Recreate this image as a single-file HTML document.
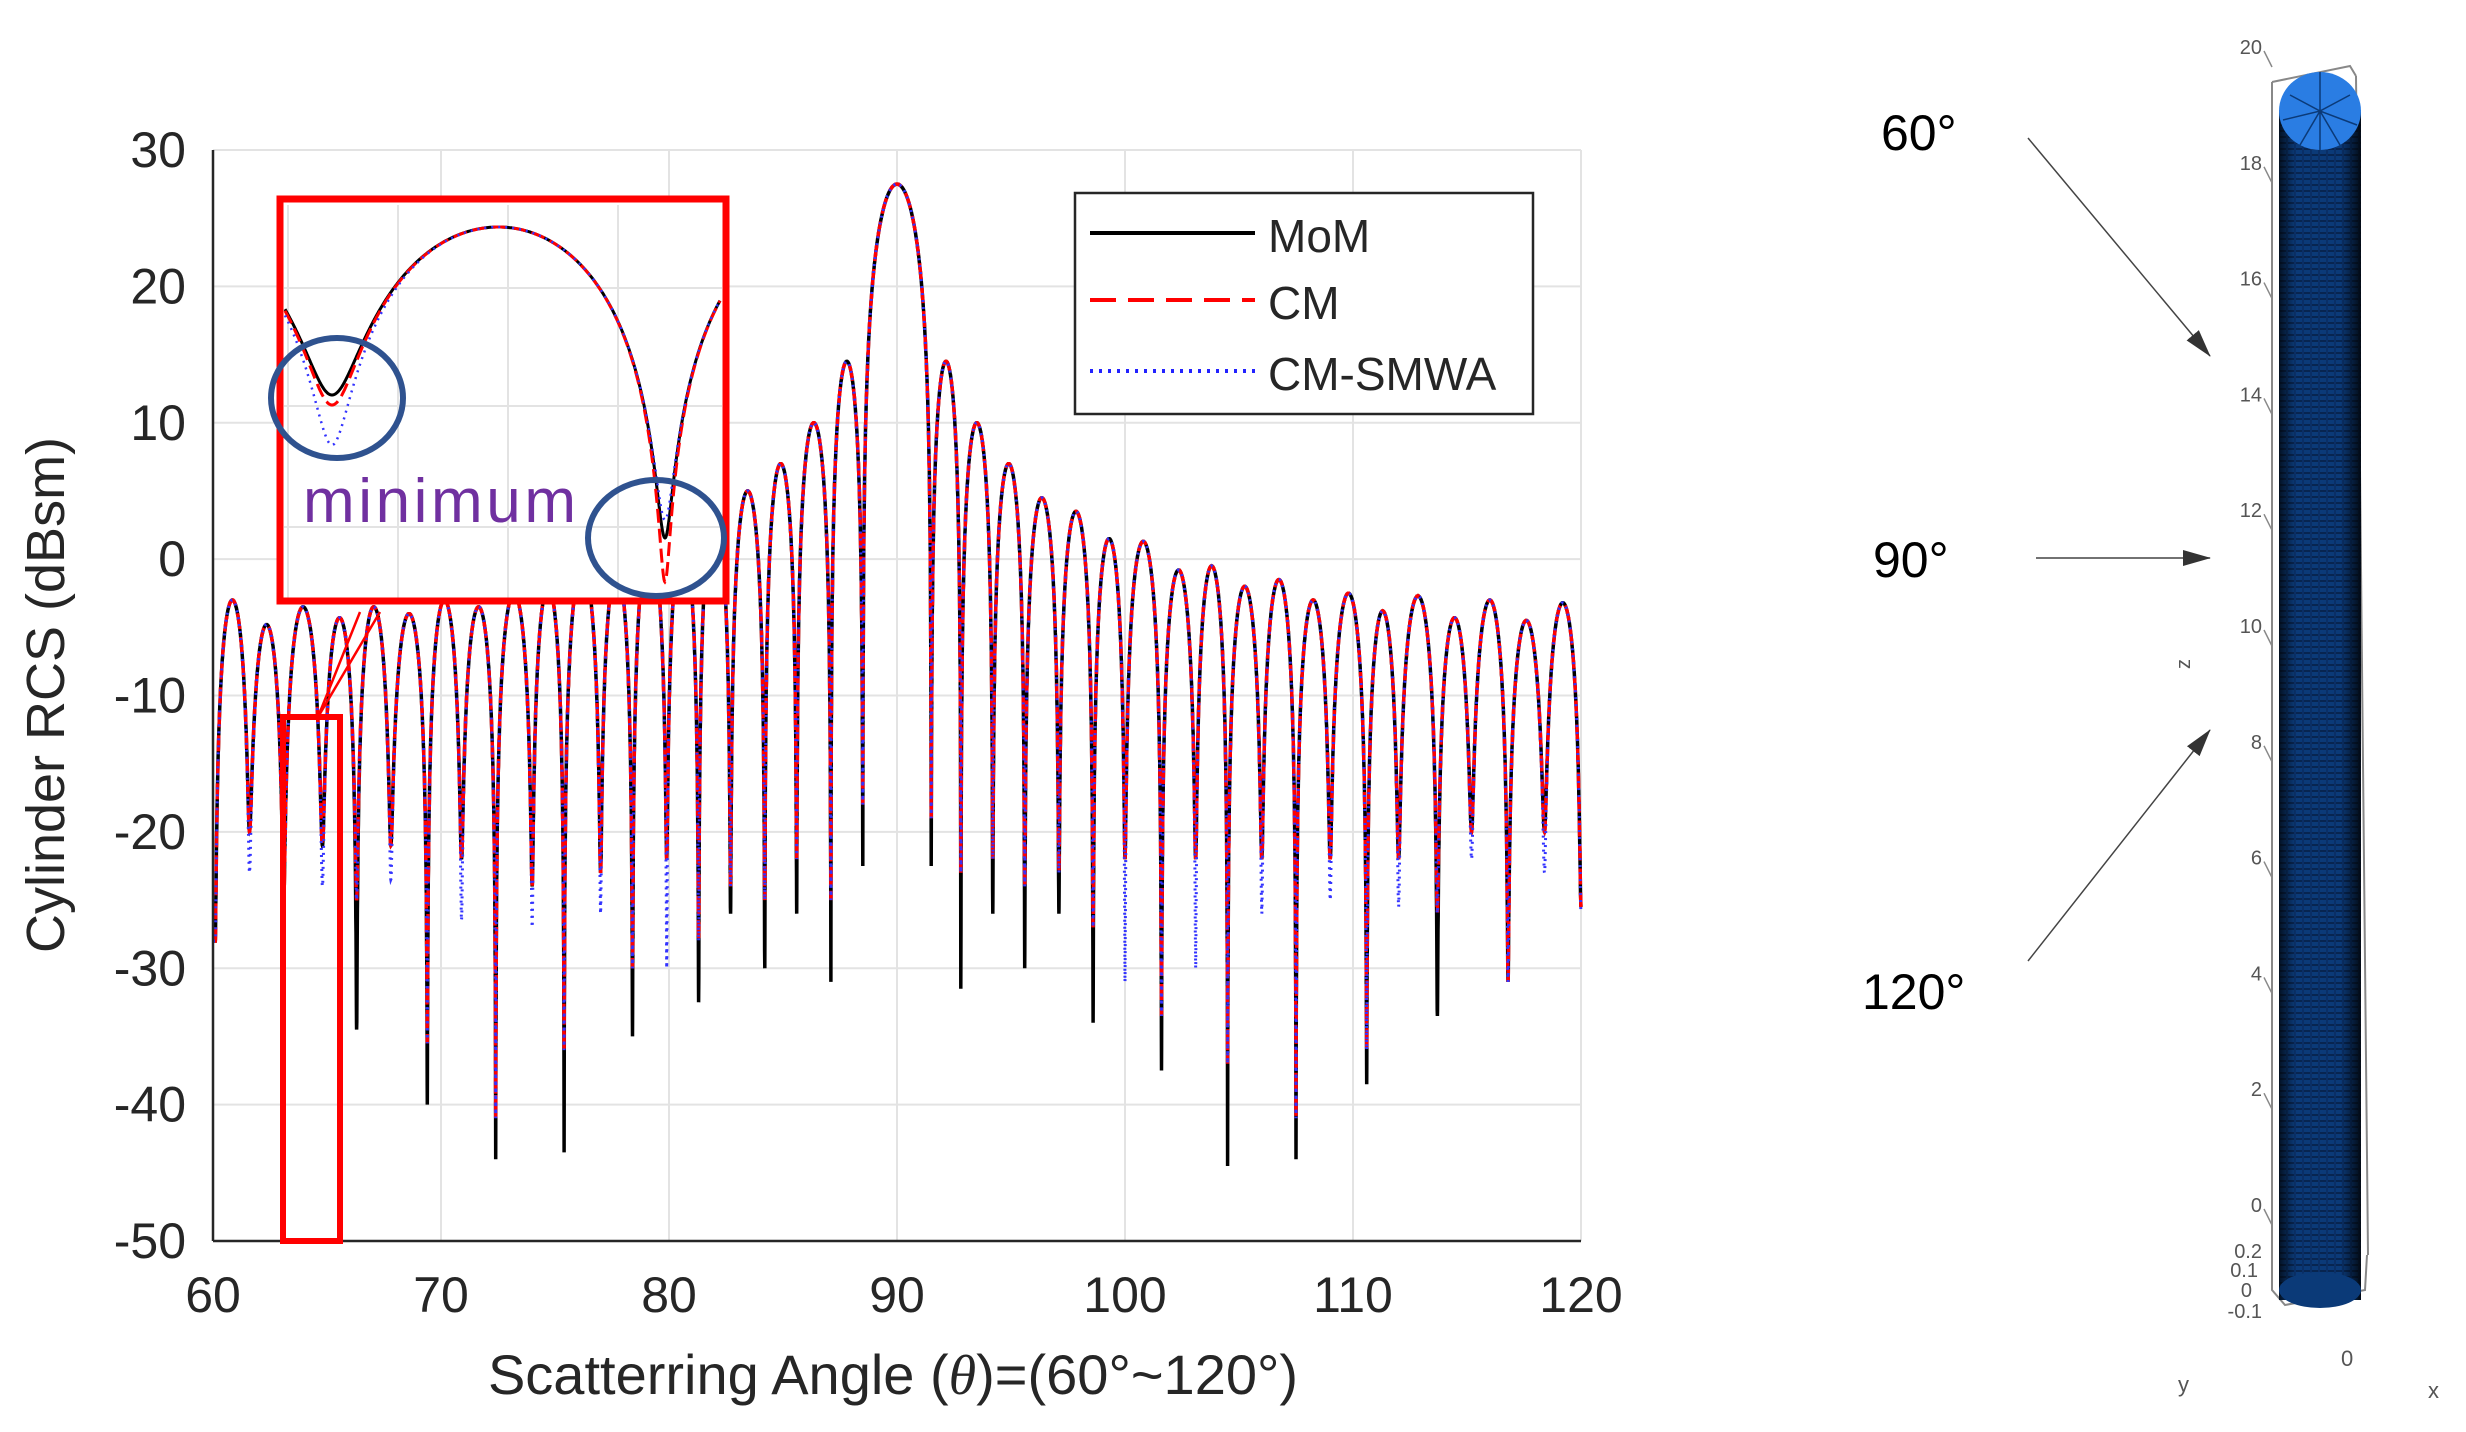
<!DOCTYPE html>
<html><head><meta charset="utf-8">
<style>
html,body{margin:0;padding:0;background:#fff;}
svg{display:block;}
text{font-family:"Liberation Sans",sans-serif;}
</style></head>
<body>
<svg id="s" width="2466" height="1432" viewBox="0 0 2466 1432" xmlns="http://www.w3.org/2000/svg">
<rect width="2466" height="1432" fill="#fff"/>
<g id="grid" stroke="#e3e3e3" stroke-width="2"></g>
<g id="series" fill="none"></g>
<line x1="213" y1="150" x2="213" y2="1241" stroke="#262626" stroke-width="2.5"/>
<line x1="213" y1="1241" x2="1581" y2="1241" stroke="#262626" stroke-width="2.5"/>
<g id="ticks" font-size="50" fill="#262626"></g>
<text x="893" y="1394" font-size="56" fill="#262626" text-anchor="middle">Scatterring Angle (<tspan font-family="Liberation Serif" font-style="italic">θ</tspan>)=(60°~120°)</text>
<text transform="translate(64,695) rotate(-90)" font-size="54" fill="#262626" text-anchor="middle">Cylinder RCS (dBsm)</text>
<rect x="1075" y="193" width="458" height="221" fill="#fff" stroke="#262626" stroke-width="2.5"/>
<line x1="1090" y1="233" x2="1255" y2="233" stroke="#000" stroke-width="4"/>
<line x1="1090" y1="300" x2="1255" y2="300" stroke="#f00" stroke-width="4" stroke-dasharray="26,12"/>
<line x1="1090" y1="371" x2="1255" y2="371" stroke="#22f" stroke-width="4" stroke-dasharray="3,6"/>
<text x="1268" y="252" font-size="46" fill="#262626">MoM</text>
<text x="1268" y="319" font-size="46" fill="#262626">CM</text>
<text x="1268" y="390" font-size="46" fill="#262626">CM-SMWA</text>
<rect x="280" y="199" width="446" height="402" fill="#fff"/>
<g stroke="#e3e3e3" stroke-width="2">
<line x1="288" y1="205" x2="288" y2="598"/><line x1="398" y1="205" x2="398" y2="598"/>
<line x1="508" y1="205" x2="508" y2="598"/><line x1="618" y1="205" x2="618" y2="598"/>
<line x1="284" y1="288" x2="722" y2="288"/><line x1="284" y1="406" x2="722" y2="406"/>
<line x1="284" y1="527" x2="722" y2="527"/>
</g>
<g id="inset" fill="none"></g>
<rect x="280" y="199" width="446" height="402" fill="none" stroke="#f00" stroke-width="7"/>
<rect x="283" y="717" width="57" height="524" fill="none" stroke="#f00" stroke-width="6"/>
<line x1="318" y1="717" x2="380" y2="612" stroke="#f00" stroke-width="2.5"/>
<line x1="318" y1="717" x2="360" y2="612" stroke="#f00" stroke-width="2.5"/>
<ellipse cx="337" cy="398" rx="66" ry="60" fill="none" stroke="#2f528f" stroke-width="6"/>
<ellipse cx="656" cy="538" rx="68" ry="58" fill="none" stroke="#2f528f" stroke-width="6"/>
<text x="303" y="522" font-family="Liberation Serif" font-size="62" fill="#7030a0" textLength="273">minimum</text>
<text x="1881" y="150" font-size="50" fill="#000">60°</text>
<text x="1873" y="577" font-size="50" fill="#000">90°</text>
<text x="1862" y="1009" font-size="50" fill="#000">120°</text>
<defs>
<marker id="ar2" markerWidth="28" markerHeight="16" refX="27" refY="8" orient="auto" markerUnits="userSpaceOnUse"><path d="M0,0 L28,8 L0,16z" fill="#333"/></marker>
<pattern id="cyl" width="8" height="6" patternUnits="userSpaceOnUse"><rect width="8" height="6" fill="#0b3a78"/><rect y="4" width="8" height="2" fill="#082550"/><rect x="6" width="2" height="6" fill="#0a2f66"/></pattern>
<linearGradient id="sh" x1="0" x2="1"><stop offset="0" stop-color="#000" stop-opacity="0.7"/><stop offset="0.2" stop-color="#000" stop-opacity="0"/><stop offset="0.75" stop-color="#000" stop-opacity="0"/><stop offset="1" stop-color="#000" stop-opacity="0.8"/></linearGradient>
</defs>
<line x1="2028" y1="138" x2="2210" y2="356" stroke="#444" stroke-width="1.5" marker-end="url(#ar2)"/>
<line x1="2036" y1="558" x2="2210" y2="558" stroke="#444" stroke-width="1.5" marker-end="url(#ar2)"/>
<line x1="2028" y1="961" x2="2210" y2="730" stroke="#444" stroke-width="1.5" marker-end="url(#ar2)"/>
<g stroke="#888" stroke-width="2" fill="none">
<polyline points="2272,82 2272,1290 2285,1305 2365,1290 2367,1255"/>
<polyline points="2272,82 2350,66 2356,76"/>
<line x1="2356" y1="76" x2="2368" y2="1255"/>
</g>
<rect x="2279" y="110" width="82" height="1190" fill="url(#cyl)"/>
<rect x="2279" y="110" width="82" height="1190" fill="url(#sh)"/>
<ellipse cx="2320" cy="1290" rx="41" ry="18" fill="#0b3a78"/>
<ellipse cx="2320" cy="111" rx="41" ry="39" fill="#2a7de3"/>
<g stroke="#0b3a78" stroke-width="1.5" fill="none">
<path d="M2290,95 L2320,111 L2350,95 M2283,120 L2320,111 L2357,125 M2320,72 L2320,150 M2300,145 L2320,111 L2340,145"/>
</g>
<g id="zt" font-size="20" fill="#555" text-anchor="end"></g>
<text transform="translate(2190,664) rotate(-90)" font-size="20" fill="#555" text-anchor="middle">z</text>
<text x="2178" y="1392" font-size="22" fill="#555">y</text>
<text x="2341" y="1366" font-size="22" fill="#555">0</text>
<text x="2428" y="1398" font-size="22" fill="#555">x</text>
<text x="2262" y="1258" font-size="20" fill="#555" text-anchor="end">0.2</text>
<text x="2258" y="1277" font-size="20" fill="#555" text-anchor="end">0.1</text>
<text x="2252" y="1297" font-size="20" fill="#555" text-anchor="end">0</text>
<text x="2262" y="1318" font-size="20" fill="#555" text-anchor="end">-0.1</text>
</svg>
<script>
var NS="http://www.w3.org/2000/svg";
function el(p,t,a,txt){var e=document.createElementNS(NS,t);for(var k in a)e.setAttribute(k,a[k]);if(txt!==undefined)e.textContent=txt;p.appendChild(e);return e;}
var X=function(d){return 213+(d-60)*1368/60;}, Y=function(v){return 150+(30-v)*1091/80;};
var g=document.getElementById('grid'),tk=document.getElementById('ticks');
for(var d=60;d<=120;d+=10){el(g,'line',{x1:X(d),y1:150,x2:X(d),y2:1241});el(tk,'text',{x:X(d),y:1312,'text-anchor':'middle'},d);}
for(var v=-50;v<=30;v+=10){el(g,'line',{x1:213,y1:Y(v),x2:1581,y2:Y(v)});el(tk,'text',{x:186,y:Y(v)+17,'text-anchor':'end'},v);}
var zt=document.getElementById('zt');
for(var i=0;i<=10;i++){var y=47+i*115.8;el(zt,'text',{x:2262,y:y+7},20-2*i);el(document.getElementById('s'),'polyline',{points:(2264)+','+(y+4)+' '+(2272)+','+(y+20),stroke:'#888','stroke-width':1.5,fill:'none'});}
var N=[[60.1,-28,-28,-28],[61.6,-20,-20,-23],[63.1,-25,-25,-25],[64.8,-21,-21,-24],[66.3,-34.5,-25,-25],[67.8,-21,-21,-23.5],[69.4,-40,-35.5,-35.5],[70.9,-22,-22,-26.5],[72.4,-44,-41,-41],[74.0,-24,-24,-27],[75.4,-43.5,-36,-36],[77.0,-23,-23,-26],[78.4,-35,-30,-30],[79.9,-22,-22,-30],[81.3,-32.5,-28,-28],[82.7,-26,-24,-24],[84.2,-30,-25,-25],[85.6,-26,-22,-22],[87.1,-31,-25,-25],[88.5,-22.5,-18,-18],
[91.5,-22.5,-19,-19],[92.8,-31.5,-23,-23],[94.2,-26,-22,-22],[95.6,-30,-24,-24],[97.1,-26,-23,-23],[98.6,-34,-27,-27],[100.0,-22,-22,-31],[101.6,-37.5,-33.5,-33.5],[103.1,-22,-22,-30],[104.5,-44.5,-37,-37],[106.0,-22,-22,-26],[107.5,-44,-41,-41],[109.0,-22,-22,-25],[110.6,-38.5,-36,-36],[112.0,-22,-22,-25.5],[113.7,-33.5,-26,-26],[115.2,-20,-20,-22],[116.8,-31,-31,-31],[118.4,-20,-20,-23],[120.0,-25.5,-25.5,-26]];
var P=[-3,-4.8,-3.5,-4.3,-3.5,-4,-3,-3.5,-2.5,-2,-0.5,-0.8,1.3,1.5,3.5,5,7,10,14.5,27.5,14.5,10,7,4.5,3.5,1.5,1.3,-0.8,-0.5,-2,-1.5,-3,-2.5,-3.8,-2.7,-4.3,-3,-4.5,-3.2];
function val(d,s){if(d<N[0][0])return N[0][s];
for(var i=0;i<N.length-1;i++){if(d>=N[i][0]&&d<=N[i+1][0]){var a=N[i][0],b=N[i+1][0],t=(d-a)/(b-a);var sv=Math.sin(Math.PI*t);var dep=t<0.5?N[i][s]:N[i+1][s];var eps=Math.pow(10,(dep-P[i])/10);return P[i]+10*Math.log10(sv*sv*(1-eps)+eps);}}return N[N.length-1][s];}
function path(s){var p='';for(var k=0;k<=12000;k++){var d=60+k*0.005;p+=(k?'L':'M')+X(d).toFixed(1)+','+Y(val(d,s)).toFixed(1);}return p;}
var se=document.getElementById('series');
el(se,'path',{d:path(1),stroke:'#000','stroke-width':3.5});
el(se,'path',{d:path(2),stroke:'#f00','stroke-width':3.5,'stroke-dasharray':'16,8'});
el(se,'path',{d:path(3),stroke:'#33f','stroke-width':3,'stroke-dasharray':'2,5'});
var IN=[[0,0,0,0],[332,395,405,445],[665,538,582,520],[998,0,0,0]];
var IP=[225,227,222];
function ival(x,s){for(var i=0;i<3;i++){if(x>=IN[i][0]&&x<=IN[i+1][0]){var a=IN[i][0],b=IN[i+1][0],t=(x-a)/(b-a);var sv=Math.sin(Math.PI*t);var dep=(t<0.5?IN[i][s]:IN[i+1][s])||2000;var eps=Math.pow(10,-(dep-IP[i])/130);return IP[i]-13*10*Math.log10(sv*sv*(1-eps)+eps);}}}
function ipath(s){var p='';for(var x=285;x<=720;x+=0.5){p+=(x>285?'L':'M')+x+','+ival(x,s).toFixed(1);}return p;}
var ig=document.getElementById('inset');
el(ig,'path',{d:ipath(1),stroke:'#000','stroke-width':3});
el(ig,'path',{d:ipath(2),stroke:'#f00','stroke-width':3,'stroke-dasharray':'14,6'});
el(ig,'path',{d:ipath(3),stroke:'#33f','stroke-width':2.5,'stroke-dasharray':'2,5'});
</script>
</body></html>
